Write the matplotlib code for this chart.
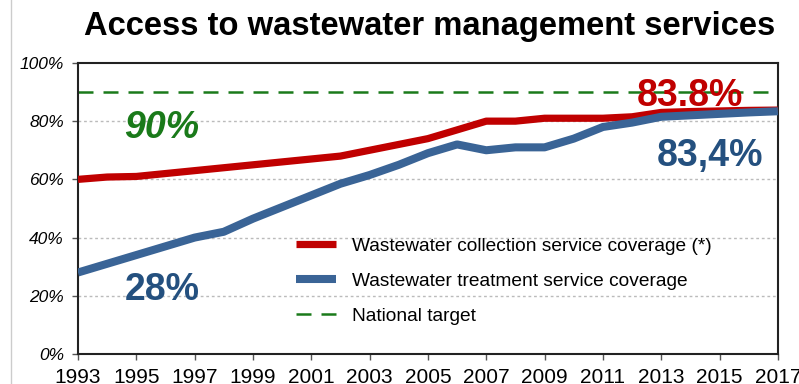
import matplotlib.pyplot as plt
from matplotlib.lines import Line2D

plt.rcParams['font.family'] = ['Liberation Sans', 'DejaVu Sans']

years = list(range(1993, 2018))
collection = [60, 60.8, 61, 62, 63, 64, 65, 66, 67, 68, 70, 72, 74, 77, 80,
              80, 81, 81, 81, 81.5, 83, 83.3, 83.5, 83.7, 83.8]
treatment = [28, 31, 34, 37, 40, 42, 46.5, 50.5, 54.5, 58.5, 61.5, 65, 69, 72, 70,
             71, 71, 74, 78, 79.5, 81.5, 82, 82.5, 83, 83.4]
target = 90
xticks = list(range(1993, 2018, 2))
yticks = [0, 20, 40, 60, 80, 100]

red = '#C00000'
blue = '#3A6496'
blue_txt = '#24507F'
green = '#1A7A1A'

fig = plt.figure(figsize=(7.99, 3.84), dpi=100)
ax = fig.add_axes([0.0976, 0.0781, 0.876, 0.758])

ax.plot(years, collection, color=red, lw=5.2, solid_joinstyle='round',
        solid_capstyle='butt', label='Wastewater collection service coverage (*)', zorder=3)
ax.plot(years, treatment, color=blue, lw=5.8, solid_joinstyle='round',
        solid_capstyle='butt', label='Wastewater treatment service coverage', zorder=3)
ax.axhline(target, color=green, lw=1.8, dashes=(6, 4), label='National target', zorder=2)

ax.set_xlim(1993, 2017)
ax.set_ylim(0, 100)
ax.set_xticks(xticks)
ax.set_xticklabels([str(y) for y in xticks], fontsize=15)
ax.set_yticks(yticks)
ax.set_yticklabels([f'{v}%' for v in yticks], fontsize=12.5, style='italic')
ax.tick_params(axis='both', direction='out', length=4, width=1, color='#555555')
ax.tick_params(axis='x', pad=6)
ax.tick_params(axis='y', pad=6)
for s in ax.spines.values():
    s.set_linewidth(1.5)
    s.set_color('#222222')
for v in [20, 40, 60, 80]:
    ax.axhline(v, color='#BBBBBB', lw=1, ls=(0, (2, 2)), zorder=1)

# value callouts
ax.text(1995.86, 77.5, '90%', color=green, fontsize=27, fontweight='bold',
        style='italic', ha='center', va='center')
ax.text(2014.0, 88.7, '83.8%', color=red, fontsize=27, fontweight='bold',
        ha='center', va='center', zorder=4)
ax.text(2014.67, 68, '83,4%', color=blue_txt, fontsize=27, fontweight='bold',
        ha='center', va='center')
ax.text(1995.9, 22, '28%', color=blue_txt, fontsize=27, fontweight='bold',
        ha='center', va='center')

ax.legend(loc='center left', bbox_to_anchor=(0.311, 0.250), frameon=False,
          fontsize=13.8, handlelength=2.1, handletextpad=0.83, labelspacing=0.92,
          borderpad=0, borderaxespad=0)

fig.text(0.538, 0.93, 'Access to wastewater management services', fontsize=23.6,
         fontweight='bold', ha='center', va='center')
fig.add_artist(Line2D([0.014, 0.014], [0, 1], color='#CCCCCC', lw=1))

fig.savefig('out.png', dpi=100)
